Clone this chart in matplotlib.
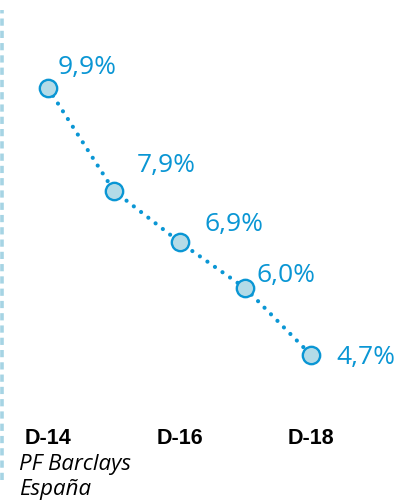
import matplotlib
matplotlib.use("Agg")
import matplotlib.pyplot as plt
import matplotlib.transforms as mtransforms

categories = ["D-14", "D-15", "D-16", "D-17", "D-18"]
values = [9.9, 7.9, 6.9, 6.0, 4.7]
value_labels = ["9,9%", "7,9%", "6,9%", "6,0%", "4,7%"]
tick_idx = [0, 2, 4]
tick_labels = ["D-14", "D-16", "D-18"]
footer_lines = ["PF Barclays", "España"]
label_offsets = [(10, 21), (23, 25), (25, 18), (11, 13), (25, -2)]  # pixels

blue = "#0a96d4"
fill = "#b4dbe7"

fig = plt.figure(figsize=(3.98, 5.04), dpi=100)
ax = fig.add_axes([0, 0, 1, 1])
ax.set_xlim(-0.73, 5.32)
ax.set_ylim(1.80, 11.614)
ax.axis("off")

x = list(range(len(categories)))
ax.plot(x, values, linestyle=(0, (0.01, 2.2)), lw=3.0, color=blue,
        dash_capstyle="round", zorder=2)
ax.plot(x, values, linestyle="none", marker="o", markersize=12.5,
        markerfacecolor=fill, markeredgecolor=blue, markeredgewidth=1.7, zorder=3)

for xi, v, lab, (dx, dy) in zip(x, values, value_labels, label_offsets):
    ax.annotate(lab, (xi, v), xytext=(dx * 0.72, dy * 0.72), textcoords="offset points",
                ha="left", va="center", color=blue, fontsize=19, family="Open Sans")

trans = mtransforms.blended_transform_factory(ax.transData, ax.transAxes)
for ti, tl in zip(tick_idx, tick_labels):
    ax.text(ti, 1 - 438.5 / 504, tl, transform=trans, ha="center", va="center",
            fontsize=15.5, fontweight="bold", family="Liberation Sans", color="black")

for i, line in enumerate(footer_lines):
    ax.text(19 / 398, 1 - (470 + 25 * i) / 504, line, transform=ax.transAxes,
            ha="left", va="baseline", fontsize=16, style="italic", family="Open Sans",
            color="black")

ax.axvline(-0.73 + 2 / 65.75, ymin=1 - 480 / 504, ymax=1 - 10 / 504, color="#a6d4e4",
           lw=2.6, linestyle=(0, (2, 1.4)))

fig.savefig("out.png", dpi=100)
